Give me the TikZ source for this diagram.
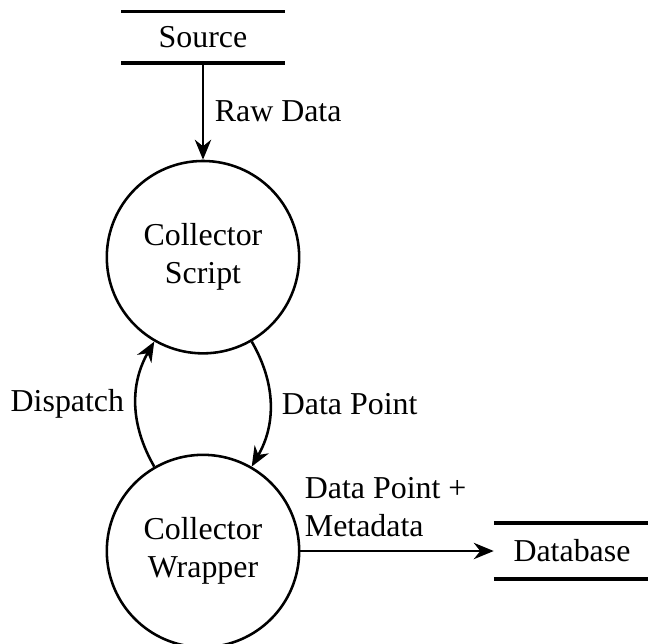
\documentclass[tikz,border=0pt]{standalone}
\usepackage{fontspec}
\setmainfont{Liberation Serif}
\usetikzlibrary{arrows.meta,positioning}

\begin{document}
\begin{tikzpicture}[
      arr/.style={-{Stealth[length=2.2mm,width=1.8mm]}, thick},
      proc/.style={draw, thick, circle, align=center, minimum size=2.12cm, inner sep=0pt},
      store/.style={align=center, minimum height=0.55cm, minimum width=1.785cm, inner sep=0pt},
      storeline/.style={very thick}
    ]
    \useasboundingbox (-2.237,0.408) rectangle (4.904,-6.678);
    \node[store] (src) at (0,0) {Source};
    \node[proc, below=1.07cm of src] (script) {Collector\\Script};
    \node[proc, below=1.09cm of script] (wrapper) {Collector\\Wrapper};
    \node[store, right=2.13cm of wrapper, minimum width=1.71cm, minimum height=0.606cm] (db) {Database};
    % store lines
    \draw[storeline] (src.north west) -- (src.north east);
    \draw[storeline] (src.south west) -- (src.south east);
    \draw[storeline] (db.north west) -- (db.north east);
    \draw[storeline] (db.south west) -- (db.south east);
    % flows
    \draw[arr] (src.south) -- node[right] {Raw Data} (script.north);
    \draw[arr] (script.300) to[bend left=30] node[right] {Data Point} (wrapper.60);
    \draw[arr] (wrapper.120) to[bend left=30] node[left] {Dispatch} (script.240);
    \draw[arr] (wrapper.east) -- node[pos=0, above right, align=left, inner xsep=1pt, inner ysep=4pt] {Data Point +\\Metadata} (db.west);
  \end{tikzpicture}
\end{document}
